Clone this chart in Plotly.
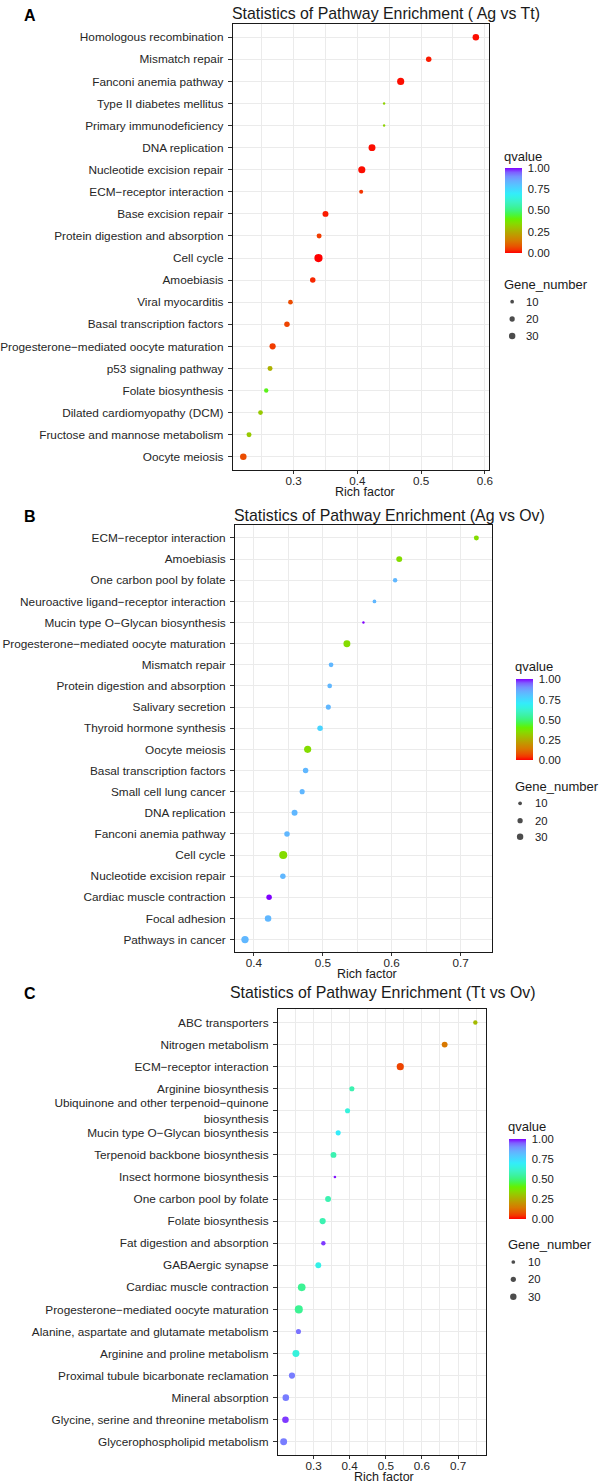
import plotly.graph_objects as go

W, H = 604, 1483
FONT = "Liberation Sans, Arial, sans-serif"
TXT = "#262626"

# ---------------- data ----------------
a_terms = ["Homologous recombination", "Mismatch repair", "Fanconi anemia pathway",
           "Type II diabetes mellitus", "Primary immunodeficiency", "DNA replication",
           "Nucleotide excision repair", "ECM−receptor interaction", "Base excision repair",
           "Protein digestion and absorption", "Cell cycle", "Amoebiasis", "Viral myocarditis",
           "Basal transcription factors", "Progesterone−mediated oocyte maturation",
           "p53 signaling pathway", "Folate biosynthesis", "Dilated cardiomyopathy (DCM)",
           "Fructose and mannose metabolism", "Oocyte meiosis"]
a_rich = [0.586, 0.512, 0.468, 0.442, 0.442, 0.423, 0.407, 0.406, 0.350, 0.340,
          0.339, 0.330, 0.295, 0.2895, 0.267, 0.263, 0.257, 0.248, 0.230, 0.221]
a_q = [0.01, 0.02, 0.01, 0.33, 0.33, 0.01, 0.01, 0.04, 0.02, 0.05,
       0.0, 0.03, 0.07, 0.06, 0.05, 0.26, 0.42, 0.31, 0.31, 0.07]
a_genes = [31, 22, 37, 4, 4, 35, 37, 12, 26, 18, 49, 22, 16, 22, 28, 18, 14, 16, 18, 31]

b_terms = ["ECM−receptor interaction", "Amoebiasis", "One carbon pool by folate",
           "Neuroactive ligand−receptor interaction", "Mucin type O−Glycan biosynthesis",
           "Progesterone−mediated oocyte maturation", "Mismatch repair",
           "Protein digestion and absorption", "Salivary secretion", "Thyroid hormone synthesis",
           "Oocyte meiosis", "Basal transcription factors", "Small cell lung cancer",
           "DNA replication", "Fanconi anemia pathway", "Cell cycle", "Nucleotide excision repair",
           "Cardiac muscle contraction", "Focal adhesion", "Pathways in cancer"]
b_rich = [0.723, 0.611, 0.605, 0.575, 0.559, 0.535, 0.512, 0.510, 0.508, 0.496,
          0.478, 0.475, 0.470, 0.459, 0.448, 0.4425, 0.442, 0.422, 0.4205, 0.387]
b_q = [0.35, 0.35, 0.83, 0.83, 1.0, 0.35, 0.83, 0.83, 0.83, 0.76,
       0.35, 0.83, 0.83, 0.83, 0.83, 0.35, 0.83, 1.0, 0.83, 0.83]
b_genes = [18, 26, 14, 10, 4, 35, 16, 16, 19, 22, 37, 22, 19, 26, 22, 47, 22, 22, 31, 39]

c_terms = ["ABC transporters", "Nitrogen metabolism", "ECM−receptor interaction",
           "Arginine biosynthesis",
           "Ubiquinone and other terpenoid−quinone<br>biosynthesis",
           "Mucin type O−Glycan biosynthesis", "Terpenoid backbone biosynthesis",
           "Insect hormone biosynthesis", "One carbon pool by folate", "Folate biosynthesis",
           "Fat digestion and absorption", "GABAergic synapse", "Cardiac muscle contraction",
           "Progesterone−mediated oocyte maturation", "Alanine, aspartate and glutamate metabolism",
           "Arginine and proline metabolism", "Proximal tubule bicarbonate reclamation",
           "Mineral absorption", "Glycine, serine and threonine metabolism",
           "Glycerophospholipid metabolism"]
c_rich = [0.748, 0.663, 0.540, 0.406, 0.394, 0.368, 0.355, 0.359, 0.340, 0.325,
          0.327, 0.313, 0.267, 0.259, 0.258, 0.251, 0.240, 0.223, 0.222, 0.217]
c_q = [0.28, 0.14, 0.06, 0.57, 0.64, 0.70, 0.57, 0.99, 0.57, 0.57,
       0.97, 0.66, 0.53, 0.53, 0.93, 0.64, 0.92, 0.92, 0.97, 0.92]
c_genes = [14, 25, 37, 19, 19, 19, 25, 5, 25, 28, 14, 25, 43, 47, 19, 35, 28, 31, 31, 35]

titles = ["Statistics of Pathway Enrichment ( Ag vs Tt)",
          "Statistics of Pathway Enrichment (Ag vs Ov)",
          "Statistics of Pathway Enrichment (Tt vs Ov)"]
panel_letters = ["A", "B", "C"]
q_ticks = [0, 0.25, 0.5, 0.75, 1.0]
q_ticktext = ["0.00", "0.25", "0.50", "0.75", "1.00"]
size_breaks = [10, 20, 30]

# ---------------- style / layout ----------------
colorscale = [
    [0.00, "#FF0000"], [0.04, "#F43400"], [0.08, "#E85400"], [0.14, "#D87800"],
    [0.20, "#C49400"], [0.25, "#B0AC00"], [0.30, "#9CC400"], [0.35, "#84DC00"],
    [0.40, "#66F000"], [0.45, "#48F640"], [0.50, "#3CF47C"], [0.55, "#3CF2A4"],
    [0.60, "#3CF2C4"], [0.65, "#34F2E2"], [0.70, "#34ECFA"], [0.75, "#44D8FF"],
    [0.80, "#56C4FF"], [0.85, "#66AEFF"], [0.90, "#7490FF"], [0.95, "#7E60FF"],
    [1.00, "#8000FF"],
]
SIZEREF = 1.45

def px_x(v):
    return v / W

def px_y(v):
    return 1 - v / H

panels = [
    dict(terms=a_terms, rich=a_rich, q=a_q, genes=a_genes,
         box=(225.0, 489.3, 24.0, 470.0), xr=(0.2047, 0.6065),
         title_xy=(222.0, 13.5), title_anchor="left", letter_y=15.5, xlab=(361, 492.5),
         cb=(506.0, 168.0, 85), leg=(506.0, 156.5, 284.0, 513.3, 529.0, [301.7, 319.0, 336.0])),
    dict(terms=b_terms, rich=b_rich, q=b_q, genes=b_genes,
         box=(227.3, 492.0, 525.3, 952.3), xr=(0.3727, 0.745),
         title_xy=(224.3, 515.0), title_anchor="left", letter_y=516.5, xlab=(363, 973.5),
         cb=(517.3, 679.5, 81), leg=(517.0, 666.3, 786.0, 521.5, 537.5, [803.3, 820.7, 836.7])),
    dict(terms=c_terms, rich=c_rich, q=c_q, genes=c_genes,
         box=(271.6, 486.1, 1009.3, 1455.0), xr=(0.2015, 0.777),
         title_xy=(379.5, 992.7), title_anchor="center", letter_y=993.5, xlab=(381, 1476.5),
         cb=(510.4, 1139.3, 80), leg=(510.0, 1126.3, 1244.3, 514.5, 530.8, [1262.0, 1279.3, 1296.7])),
]

fig = go.Figure()
layout = dict(width=W, height=H, margin=dict(l=0, r=0, t=0, b=0),
              paper_bgcolor="white", plot_bgcolor="rgba(0,0,0,0)", showlegend=False,
              font=dict(family=FONT, color=TXT), annotations=[])

for i, p in enumerate(panels):
    n = "" if i == 0 else str(i + 1)
    ca = "coloraxis" + n
    x0, x1, y0, y1 = p["box"]
    fig.add_trace(go.Scatter(
        x=p["rich"], y=p["terms"], mode="markers",
        xaxis="x" + n, yaxis="y" + n,
        marker=dict(size=p["genes"], sizemode="area", sizeref=SIZEREF, sizemin=1.2,
                    color=p["q"], coloraxis=ca, line=dict(width=0), opacity=1),
        hoverinfo="skip"))
    layout["xaxis" + n] = dict(
        domain=[px_x(x0), px_x(x1)], range=list(p["xr"]), anchor="y" + n,
        tick0=0, dtick=0.1, tickformat=".1f",
        showgrid=True, gridcolor="#EBEBEB", gridwidth=1.1, zeroline=False,
        minor=dict(dtick=0.05, tick0=0, showgrid=True, gridcolor="#EBEBEB", gridwidth=0.8),
        showline=True, mirror=True, linecolor="#1a1a1a", linewidth=1.2,
        ticks="outside", ticklen=3, tickwidth=1, tickcolor="#333333",
        ticklabelstandoff=-3,
        tickfont=dict(family=FONT, size=11.7, color=TXT), fixedrange=True)
    layout["yaxis" + n] = dict(
        domain=[px_y(y1), px_y(y0)], anchor="x" + n, type="category",
        categoryorder="array", categoryarray=list(reversed(p["terms"])),
        range=[-0.6, len(p["terms"]) - 0.4],
        showgrid=True, gridcolor="#EBEBEB", gridwidth=1.1, zeroline=False,
        showline=True, mirror=True, linecolor="#1a1a1a", linewidth=1.2,
        ticks="outside", ticklen=4, tickwidth=1, tickcolor="#333333",
        ticklabelstandoff=2,
        tickfont=dict(family=FONT, size=11.8, color=TXT), fixedrange=True)
    cbx, cby, cblen = p["cb"]
    layout[ca] = dict(
        cmin=0, cmax=1, colorscale=colorscale,
        colorbar=dict(x=px_x(cbx), xanchor="left", y=px_y(cby), yanchor="top",
                      len=cblen, lenmode="pixels", thickness=17, thicknessmode="pixels",
                      xpad=0, ypad=0, outlinewidth=0, title=dict(text=""),
                      tickvals=q_ticks, ticktext=q_ticktext, ticks="outside",
                      ticklen=4, tickwidth=1, tickcolor="white",
                      tickfont=dict(family=FONT, size=11.3, color="#1a1a1a")))
    # title
    tx, ty = p["title_xy"]
    layout["annotations"].append(dict(
        text=titles[i], x=px_x(tx), y=px_y(ty), xref="paper", yref="paper",
        xanchor=p["title_anchor"], yanchor="middle", showarrow=False,
        font=dict(family=FONT, size=15.9, color="#1a1a1a")))
    # panel letter
    layout["annotations"].append(dict(
        text="<b>%s</b>" % panel_letters[i], x=px_x(16.0), y=px_y(p["letter_y"]),
        xref="paper", yref="paper", xanchor="center", yanchor="middle", showarrow=False,
        font=dict(family=FONT, size=16, color="#000000")))
    # x axis title
    lx, ly = p["xlab"]
    layout["annotations"].append(dict(
        text="Rich factor", x=px_x(lx), y=px_y(ly), xref="paper", yref="paper",
        xanchor="center", yanchor="middle", showarrow=False,
        font=dict(family=FONT, size=12.5, color="#1a1a1a")))
    # legends titles
    lgx, qy, gy, dotx, labx, rows = p["leg"]
    layout["annotations"].append(dict(
        text="qvalue", x=px_x(lgx - 3), y=px_y(qy), xref="paper", yref="paper",
        xanchor="left", yanchor="middle", showarrow=False,
        font=dict(family=FONT, size=13, color="#1a1a1a")))
    layout["annotations"].append(dict(
        text="Gene_number", x=px_x(lgx - 3), y=px_y(gy), xref="paper", yref="paper",
        xanchor="left", yanchor="middle", showarrow=False,
        font=dict(family=FONT, size=13, color="#1a1a1a")))
    for s, ry in zip(size_breaks, rows):
        layout["annotations"].append(dict(
            text=str(s), x=px_x(labx - 3), y=px_y(ry), xref="paper", yref="paper",
            xanchor="left", yanchor="middle", showarrow=False,
            font=dict(family=FONT, size=11.3, color="#1a1a1a")))
    # size legend keys on a pixel overlay axis
    fig.add_trace(go.Scatter(
        x=[dotx] * len(size_breaks), y=rows, mode="markers", xaxis="x4", yaxis="y4",
        marker=dict(size=size_breaks, sizemode="area", sizeref=SIZEREF,
                    color="black", line=dict(width=0)),
        hoverinfo="skip"))

layout["xaxis4"] = dict(domain=[0, 1], range=[0, W], visible=False, anchor="y4", fixedrange=True)
layout["yaxis4"] = dict(domain=[0, 1], range=[H, 0], visible=False, anchor="x4", fixedrange=True)

fig.update_layout(**layout)
fig.write_html("out.html")
